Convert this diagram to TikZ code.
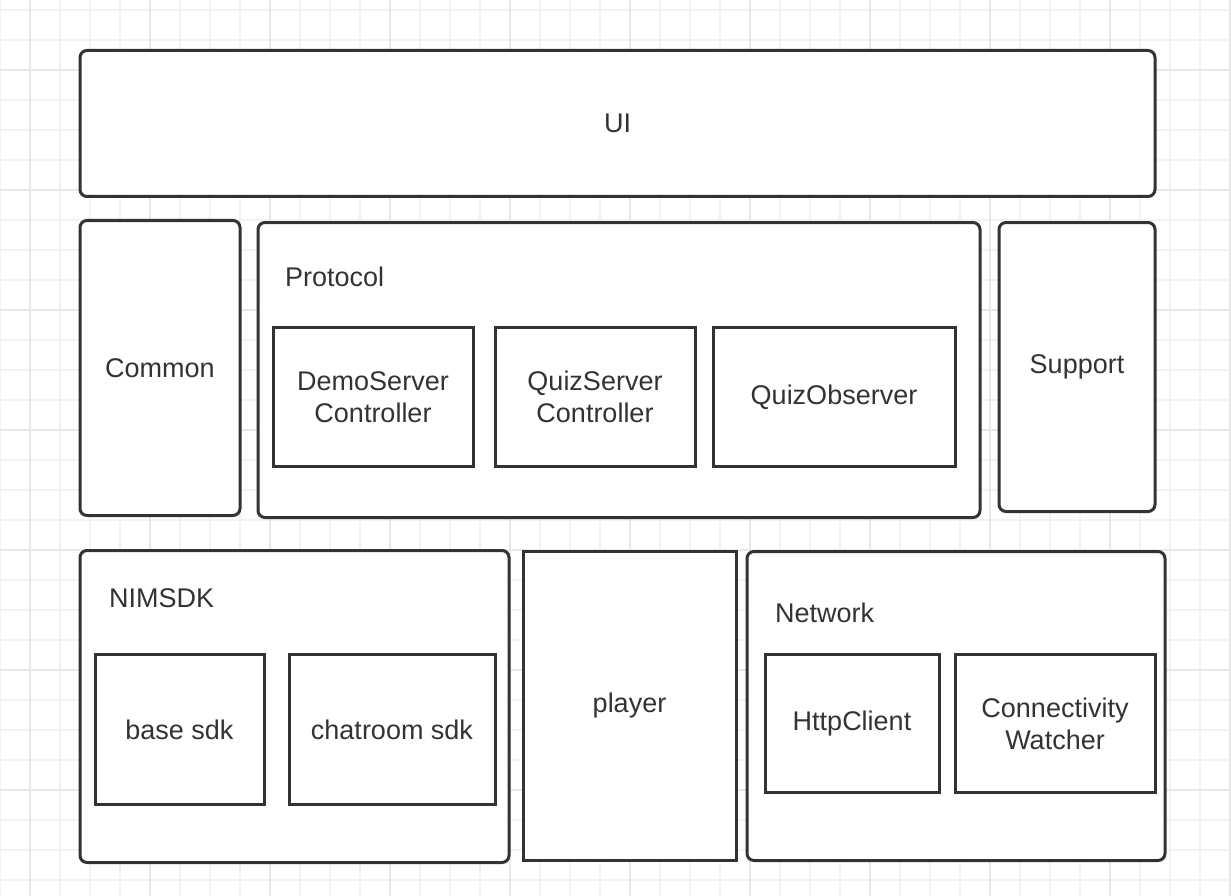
\documentclass[tikz,border=0pt]{standalone}
\usepackage{fontspec}
\setmainfont{Liberation Sans}
\usetikzlibrary{positioning}
\definecolor{boxline}{HTML}{333333}
\definecolor{gridminor}{HTML}{F2F2F2}
\definecolor{gridmajor}{HTML}{E8E8E8}
\tikzset{
  every picture/.style={draw=boxline, text=boxline},
  layer/.style={draw=boxline, line width=3pt, fill=white, rounded corners=7pt,
    anchor=north west, inner sep=0pt},
  module/.style={draw=boxline, line width=3pt, fill=white, sharp corners,
    anchor=north west, inner sep=0pt, align=center},
  tag/.style={anchor=base west, inner sep=0pt},
}
\newcommand{\labelfont}{\fontsize{27}{32}\selectfont}
\begin{document}
\begin{tikzpicture}[x=1pt, y=-1pt, every node/.style={font=\labelfont}]
\useasboundingbox (0,0) rectangle (1231,896);
% background grid
\fill[white] (0,0) rectangle (1231,896);
\foreach \gx in {0,30,...,1230} \draw[gridminor, line width=1.5pt] (\gx,0) -- (\gx,896);
\foreach \gy in {10,40,...,890} \draw[gridminor, line width=1.5pt] (0,\gy) -- (1231,\gy);
\foreach \gx in {30,150,...,1230} \draw[gridmajor, line width=1.5pt] (\gx,0) -- (\gx,896);
\foreach \gy in {70,190,...,890} \draw[gridmajor, line width=1.5pt] (0,\gy) -- (1231,\gy);
% top layer
\node[layer, minimum width=1075pt, minimum height=146pt] (ui) at (78.5,49) {UI};
% middle row
\node[layer, minimum width=160pt, minimum height=295pt] (common) at (78.5,219) {Common};
\node[layer, minimum width=722pt, minimum height=295pt] (protocol) at (256.5,221) {};
\node[tag] (protocollbl) at (285,286) {Protocol};
\node[module, minimum width=200pt, minimum height=139pt] (demoserver) at (271.5,326) {DemoServer\\Controller};
\node[module, minimum width=200pt, minimum height=139pt] (quizserver) at (493.5,326) {QuizServer\\Controller};
\node[module, minimum width=242pt, minimum height=139pt] (quizobserver) at (711.5,326) {QuizObserver};
\node[layer, minimum width=156pt, minimum height=289pt] (support) at (997.5,221) {Support};
% bottom row
\node[layer, minimum width=429pt, minimum height=312pt] (nimsdk) at (78.5,549) {};
\node[tag] (nimsdklbl) at (109,607) {NIMSDK};
\node[module, minimum width=169pt, minimum height=150pt] (basesdk) at (93.5,653) {base sdk};
\node[module, minimum width=206pt, minimum height=150pt] (chatroomsdk) at (287.5,653) {chatroom sdk};
\node[module, minimum width=213pt, minimum height=309pt] (player) at (521.5,550) {player};
\node[layer, minimum width=418pt, minimum height=309pt] (network) at (745.5,550) {};
\node[tag] (networklbl) at (775,622) {Network};
\node[module, minimum width=174pt, minimum height=138pt] (httpclient) at (763.5,653) {HttpClient};
\node[module, minimum width=200pt, minimum height=138pt] (watcher) at (953.5,653) {Connectivity\\Watcher};
\end{tikzpicture}
\end{document}
